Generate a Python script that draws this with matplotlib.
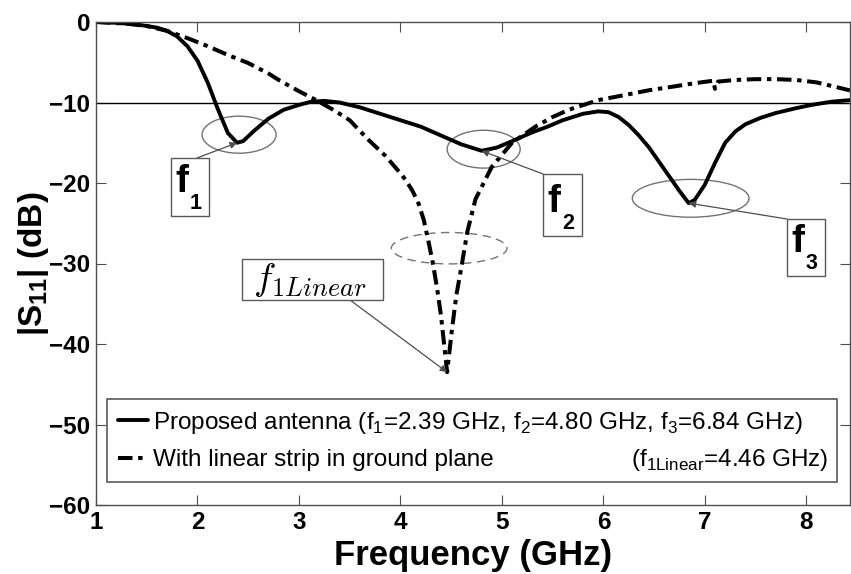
import matplotlib
matplotlib.use("Agg")
import matplotlib.pyplot as plt
from matplotlib.patches import Ellipse, Rectangle

# Measured |S11| of the proposed antenna (GHz, dB)
freq_prop = [1.0, 1.2, 1.4, 1.6, 1.7, 1.8, 1.9, 2.0, 2.1, 2.2, 2.3, 2.39, 2.45,
             2.55, 2.7, 2.85, 3.0, 3.12, 3.25, 3.4, 3.6, 3.8, 4.0, 4.2, 4.4,
             4.6, 4.8, 4.95, 5.1, 5.3, 5.45, 5.6, 5.8, 5.95, 6.05, 6.15, 6.25,
             6.35, 6.45, 6.55, 6.65, 6.75, 6.84, 6.9, 7.0, 7.1, 7.2, 7.3, 7.4,
             7.55, 7.7, 7.9, 8.05, 8.25, 8.43]
s11_prop = [0.0, -0.1, -0.3, -0.7, -1.1, -1.8, -3.0, -4.8, -7.5, -10.8, -13.8,
            -15.0, -14.8, -13.6, -12.0, -10.9, -10.3, -9.9, -9.8, -10.0, -10.6,
            -11.4, -12.2, -13.0, -14.1, -15.2, -16.0, -15.6, -14.8, -13.7,
            -13.0, -12.2, -11.4, -11.1, -11.2, -11.8, -12.8, -14.1, -15.6,
            -17.4, -19.2, -21.0, -22.5, -22.1, -20.2, -17.5, -15.0, -13.6,
            -12.7, -11.9, -11.3, -10.7, -10.3, -9.9, -9.7]

# Reference design with a linear strip in the ground plane
freq_lin = [1.0, 1.3, 1.5, 1.7, 1.9, 2.1, 2.3, 2.5, 2.7, 2.8, 3.0, 3.17, 3.35,
            3.5, 3.69, 3.85, 4.0, 4.05, 4.12, 4.18, 4.23, 4.28, 4.32, 4.36,
            4.4, 4.43, 4.46, 4.5, 4.55, 4.6, 4.66, 4.74, 4.9, 5.1, 5.33, 5.5,
            5.66, 5.95, 6.2, 6.44, 6.7, 6.9, 7.08, 7.1, 7.13, 7.3, 7.5, 7.7,
            7.9, 8.1, 8.3, 8.43]
s11_lin = [0.0, -0.2, -0.5, -1.1, -2.0, -3.0, -4.1, -5.1, -6.4, -7.2, -8.6,
           -9.7, -11.0, -12.2, -14.7, -16.6, -18.8, -19.6, -21.0, -22.6,
           -24.6, -27.5, -30.0, -33.0, -36.5, -40.0, -43.5, -39.0, -34.0,
           -30.5, -26.0, -22.0, -18.0, -15.0, -13.0, -11.8, -10.9, -9.7, -9.1,
           -8.5, -8.0, -7.6, -7.3, -8.3, -7.4, -7.2, -7.1, -7.1, -7.2, -7.5,
           -8.1, -8.5]

res_freqs = [2.39, 4.80, 6.84]
res_depths = [-15.0, -16.0, -22.5]
lin_freq = 4.46
lin_depth = -43.5
threshold_db = -10

x_ticks = [1, 2, 3, 4, 5, 6, 7, 8]
y_ticks = [-60, -50, -40, -30, -20, -10, 0]

plt.rcParams["font.family"] = ["Liberation Sans", "DejaVu Sans"]

W, H = 851, 574
fig = plt.figure(figsize=(W / 100, H / 100), dpi=100)
AX_L, AX_T, AX_W, AX_H = 96, 22, 754, 483
ax = fig.add_axes([AX_L / W, 1 - (AX_T + AX_H) / H, AX_W / W, AX_H / H])


def px(x, y):
    """Figure pixel position (from top-left) to axes fraction."""
    return (x - AX_L) / AX_W, (AX_T + AX_H - y) / AX_H


ax.plot(freq_prop, s11_prop, color="black", lw=2.8, solid_capstyle="round",
        label=r"Proposed antenna (f$_\mathregular{1}$=2.39 GHz, "
              r"f$_\mathregular{2}$=4.80 GHz, f$_\mathregular{3}$=6.84 GHz)")
ax.plot(freq_lin, s11_lin, color="black", lw=2.9,
        linestyle=(0, (3.6, 1.4, 1.1, 1.4)),
        label="With linear strip in ground plane")
ax.axhline(threshold_db, color="black", lw=1.0)

ax.set_xlim(1, 8.43)
ax.set_ylim(-60, 0)
ax.set_xticks(x_ticks)
ax.set_yticks(y_ticks)
ax.tick_params(direction="in", length=7, width=0.8, color="0.3",
               top=True, right=True, labelsize=17.5, pad=4)
for lab in ax.get_xticklabels() + ax.get_yticklabels():
    lab.set_fontweight("bold")
for sp in ax.spines.values():
    sp.set_color("0.3")
    sp.set_linewidth(1.0)

ax.set_xlabel("Frequency (GHz)", fontsize=25, fontweight="bold", labelpad=4)
ax.set_ylabel(r"|S$_\mathregular{11}$| (dB)", fontsize=24, fontweight="bold",
              labelpad=-1)

# Ellipses marking the resonances
ell_w = [0.73, 0.72, 1.15]
ell_h = [4.6, 4.7, 4.7]
ell_dy = [1.0, 0.2, 0.6]
for f, d, w, h, dy in zip(res_freqs, res_depths, ell_w, ell_h, ell_dy):
    ax.add_patch(Ellipse((f + 0.02, d + dy), w, h, fill=False,
                         edgecolor="0.45", lw=1.0))
ax.add_patch(Ellipse((lin_freq + 0.02, -28.1), 1.14, 3.9, fill=False,
                     edgecolor="0.45", lw=1.0, linestyle=(0, (6, 4))))

# Callout boxes with leader arrows
boxes = [(171, 158, 38, 58, "1", (197, 158)),
         (543, 174, 39, 62, "2", (543, 174)),
         (787, 219, 38, 57, "3", (787, 219))]
for (bx, by, bw, bh, sub, start), f, d in zip(boxes, res_freqs, res_depths):
    x0, y0 = px(bx, by + bh)
    x1, y1 = px(bx + bw, by)
    ax.add_patch(Rectangle((x0, y0), x1 - x0, y1 - y0, transform=ax.transAxes,
                           fill=True, facecolor="white", edgecolor="0.35",
                           lw=1.0, zorder=5))
    ax.text(*px(bx + 4, by + bh - 24), "f", transform=ax.transAxes,
            fontsize=28, fontweight="bold", ha="left", va="baseline", zorder=6)
    ax.text(*px(bx + 19, by + bh - 7), sub, transform=ax.transAxes,
            fontsize=15.5, fontweight="bold", ha="left", va="baseline", zorder=6)
    ax.annotate("", xy=(f, d), xycoords="data", xytext=px(*start),
                textcoords="axes fraction",
                arrowprops=dict(arrowstyle="-|>", color="0.3", lw=0.9,
                                mutation_scale=10, shrinkA=0, shrinkB=0))

lx0, ly0 = px(242, 300)
lx1, ly1 = px(383, 259)
ax.add_patch(Rectangle((lx0, ly0), lx1 - lx0, ly1 - ly0, transform=ax.transAxes,
                       facecolor="white", edgecolor="0.35", lw=1.0, zorder=5))
ax.text(*px(310, 280), r"$f_{1Linear}$", transform=ax.transAxes,
        fontsize=27, math_fontfamily="cm", ha="center", va="center", zorder=6)
ax.annotate("", xy=(lin_freq, lin_depth), xycoords="data",
            xytext=px(350, 300), textcoords="axes fraction",
            arrowprops=dict(arrowstyle="-|>", color="0.3", lw=0.9,
                            mutation_scale=10, shrinkA=0, shrinkB=0))

lb0 = px(107, 482)
lb1 = px(837, 398)
leg = ax.legend(loc="lower left",
                bbox_to_anchor=(lb0[0], lb0[1], lb1[0] - lb0[0], lb1[1] - lb0[1]),
                mode="expand", fontsize=17.5, handlelength=1.25,
                handletextpad=0.2, labelspacing=0.55, borderpad=0.45,
                borderaxespad=0, fancybox=False, framealpha=1)
leg.get_frame().set_edgecolor("0.35")
leg.get_frame().set_linewidth(1.2)
leg.set_zorder(7)
ax.text(*px(828, 460), r"(f$_\mathregular{1Linear}$=4.46 GHz)",
        transform=ax.transAxes, fontsize=17.5, ha="right", va="center",
        zorder=8)

fig.savefig("out.png", dpi=100)
